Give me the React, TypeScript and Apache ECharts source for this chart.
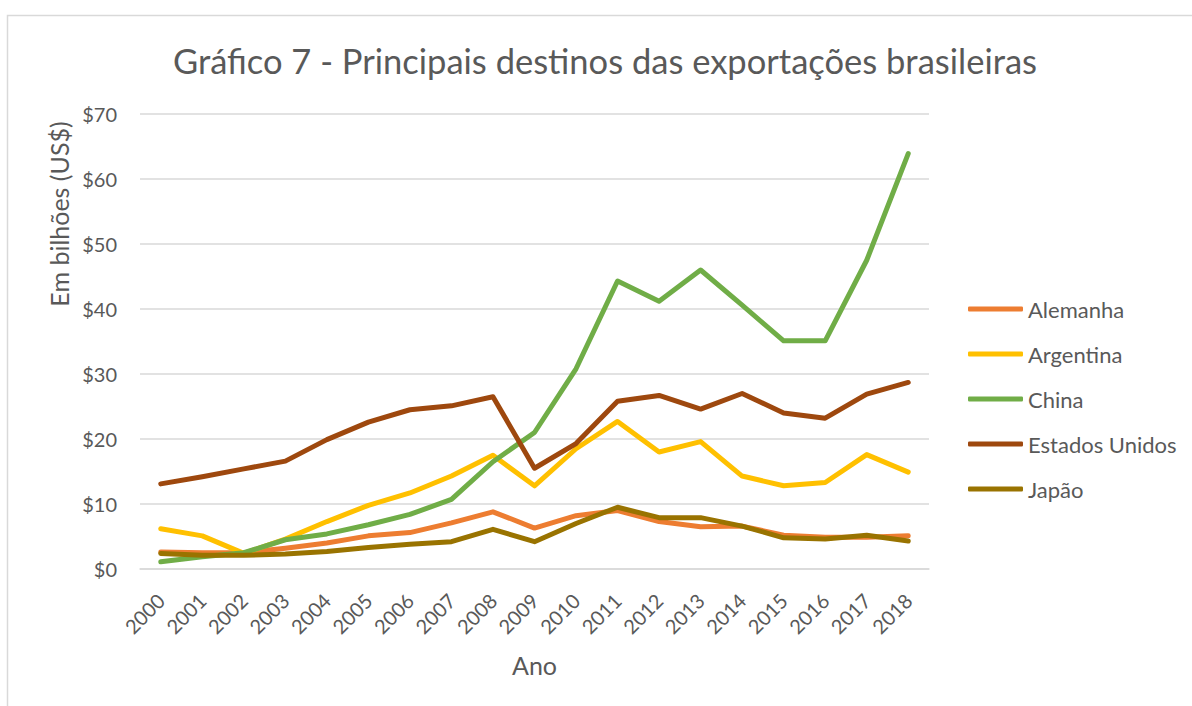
import React, { useEffect, useRef } from "react";
import * as echarts from "echarts";

const years = ["2000","2001","2002","2003","2004","2005","2006","2007","2008","2009","2010","2011","2012","2013","2014","2015","2016","2017","2018"];
const alemanha = [2.6, 2.5, 2.5, 3.2, 4.0, 5.1, 5.6, 7.1, 8.8, 6.3, 8.2, 9.0, 7.3, 6.5, 6.6, 5.2, 4.9, 4.9, 5.1];
const argentina = [6.2, 5.1, 2.4, 4.6, 7.3, 9.8, 11.7, 14.3, 17.5, 12.8, 18.5, 22.7, 18.0, 19.6, 14.3, 12.8, 13.3, 17.6, 14.9];
const china = [1.1, 1.9, 2.5, 4.5, 5.4, 6.8, 8.4, 10.7, 16.5, 21.0, 30.8, 44.3, 41.2, 46.0, 40.6, 35.1, 35.1, 47.5, 63.9];
const estadosUnidos = [13.1, 14.2, 15.4, 16.6, 19.9, 22.6, 24.5, 25.1, 26.5, 15.5, 19.3, 25.8, 26.7, 24.6, 27.0, 24.0, 23.2, 26.9, 28.7];
const japao = [2.4, 2.1, 2.1, 2.3, 2.7, 3.3, 3.8, 4.2, 6.1, 4.2, 7.0, 9.5, 7.9, 7.9, 6.6, 4.8, 4.6, 5.2, 4.3];

const seriesNames = ["Alemanha", "Argentina", "China", "Estados Unidos", "Japão"];
const seriesData = [alemanha, argentina, china, estadosUnidos, japao];
const seriesColors = ["#ED7D31", "#FFC000", "#70AD47", "#9E480E", "#997300"];

const titleText = "Gráfico 7 - Principais destinos das exportações brasileiras";
const yAxisTitle = "Em bilhões (US$)";
const xAxisTitle = "Ano";

const FONT = "Lato";
const TEXT = "#595959";

export default function App() {
  const ref = useRef<HTMLDivElement>(null);
  useEffect(() => {
    document.body.style.margin = "0";
    const chart = echarts.init(ref.current!, null, { renderer: "svg" });
    chart.setOption({
      animation: false,
      backgroundColor: "#ffffff",
      textStyle: { fontFamily: FONT },
      grid: { left: 140, right: 263, top: 114, bottom: 137, containLabel: false },
      graphic: [
        {
          type: "rect",
          shape: { x: 7.5, y: 15.5, width: 1300, height: 800 },
          style: { fill: "none", stroke: "#d9d9d9", lineWidth: 1.5 },
          silent: true,
        },
        {
          type: "text",
          x: 605,
          y: 60,
          style: {
            text: titleText,
            fontFamily: FONT,
            fontSize: 34.5,
            fill: TEXT,
            align: "center",
            verticalAlign: "middle",
          },
        },
        {
          type: "text",
          x: 59,
          y: 214,
          rotation: Math.PI / 2,
          style: {
            text: yAxisTitle,
            fontFamily: FONT,
            fontSize: 25,
            fill: TEXT,
            align: "center",
            verticalAlign: "middle",
          },
        },
      ],
      legend: {
        orient: "vertical",
        left: 968,
        top: 298,
        padding: 0,
        itemWidth: 55,
        itemHeight: 5,
        itemGap: 23,
        icon: "roundRect",
        textStyle: { fontFamily: FONT, fontSize: 22, color: TEXT, lineHeight: 22 },
        data: seriesNames,
      },
      xAxis: {
        type: "category",
        data: years,
        boundaryGap: true,
        name: xAxisTitle,
        nameLocation: "middle",
        nameGap: 83,
        nameTextStyle: { fontFamily: FONT, fontSize: 25, color: TEXT },
        axisLine: { lineStyle: { color: "#d9d9d9", width: 1.5 } },
        axisTick: { show: false },
        axisLabel: { rotate: 45, margin: 28, fontFamily: FONT, fontSize: 20, color: TEXT, interval: 0 },
      },
      yAxis: {
        type: "value",
        min: 0,
        max: 70,
        interval: 10,
        axisLine: { show: false },
        axisTick: { show: false },
        axisLabel: { formatter: "${value}", margin: 23, fontFamily: FONT, fontSize: 20, color: TEXT },
        splitLine: { lineStyle: { color: "#d9d9d9", width: 1.5 } },
      },
      series: seriesNames.map((name, i) => ({
        name,
        type: "line",
        data: seriesData[i],
        symbol: "none",
        color: seriesColors[i],
        lineStyle: { width: 5, color: seriesColors[i], cap: "round", join: "round" },
      })),
    });
    return () => chart.dispose();
  }, []);
  return <div ref={ref} style={{ width: 1192, height: 706 }} />;
}
